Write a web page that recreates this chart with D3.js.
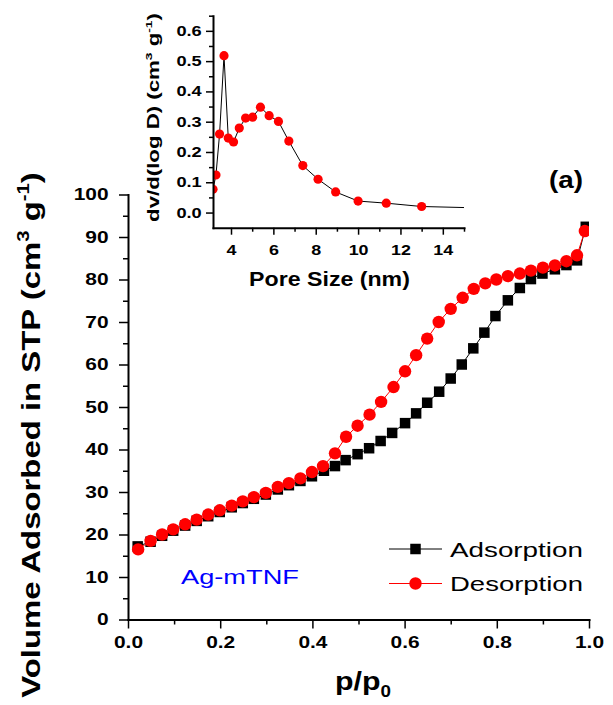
<!DOCTYPE html>
<html><head><meta charset="utf-8">
<script src="https://cdn.jsdelivr.net/npm/d3@7"></script>
<style>body{margin:0;background:#fff} svg{display:block}</style>
</head><body><svg id="c" width="613" height="705"></svg>
<script>
// ---------- data ----------
const pAds = [0.021,0.049,0.074,0.098,0.124,0.149,0.174,0.199,0.225,0.249,0.273,0.299,0.325,0.349,0.374,0.399,0.425,0.449,0.472,0.498,0.523,0.548,0.573,0.601,0.625,0.649,0.675,0.700,0.724,0.749,0.773,0.797,0.824,0.850,0.874,0.899,0.926,0.951,0.974,0.993];
const vAds = [17.2,18.3,19.7,20.9,22.1,23.2,24.3,25.3,26.4,27.4,28.4,29.4,30.6,31.6,32.6,33.7,35.0,36.1,37.5,38.9,40.3,42.0,43.9,46.2,48.5,51.0,53.6,56.7,60.0,63.8,67.5,71.4,75.1,78.0,80.1,81.4,82.4,83.4,84.5,92.4];
const pDes = [0.022,0.049,0.074,0.098,0.124,0.149,0.174,0.199,0.225,0.249,0.273,0.299,0.325,0.349,0.374,0.399,0.423,0.449,0.473,0.498,0.524,0.549,0.576,0.601,0.625,0.649,0.674,0.700,0.726,0.750,0.775,0.799,0.824,0.850,0.874,0.900,0.926,0.951,0.974,0.991];
const vDes = [16.5,18.5,20.0,21.2,22.4,23.5,24.7,25.7,26.8,27.8,28.8,29.8,31.2,32.1,33.2,34.7,36.1,39.1,43.0,45.6,48.2,51.2,54.7,58.4,62.2,66.1,70.0,73.1,75.7,77.8,79.1,80.0,80.8,81.4,82.1,82.8,83.3,84.3,85.7,91.4];
const poreSize = [3.15,3.29,3.46,3.67,3.87,4.12,4.39,4.69,5.02,5.39,5.80,6.24,6.73,7.39,8.11,8.94,10.0,11.33,13.0,15.9];
const dvdlogD  = [0.077,0.124,0.259,0.518,0.246,0.233,0.279,0.312,0.315,0.348,0.320,0.301,0.236,0.155,0.110,0.068,0.038,0.031,0.020,0.015];

const xMajor = [0,0.2,0.4,0.6,0.8,1.0], xMinor = [0.1,0.3,0.5,0.7,0.9];
const yMajor = [0,10,20,30,40,50,60,70,80,90,100], yMinor = [5,15,25,35,45,55,65,75,85,95];
const ixMajor = [4,6,8,10,12,14], ixMinor = [5,7,9,11,13,15];
const iyMajor = [0,0.1,0.2,0.3,0.4,0.5,0.6], iyMinor = [0.05,0.15,0.25,0.35,0.45,0.55,0.65];
const seriesNames = ["Adsorption","Desorption"];
const sampleName = "Ag-mTNF";
const panelLabel = "(a)";

// ---------- setup ----------
const FONT = 'Arial, "Liberation Sans", sans-serif';
const svg = d3.select("#c");
const x = d3.scaleLinear().domain([0,1]).range([128,589]);
const y = d3.scaleLinear().domain([0,100]).range([619.5,194.5]);
const xi = d3.scaleLinear().domain([3.15,15]).range([213,464]);
const yi = d3.scaleLinear().domain([-0.05,0.65]).range([227.7,15.7]);

function styleAxis(g, dw, tw, fs){
  g.select(".domain").attr("stroke","#000").attr("stroke-width",dw).attr("stroke-linecap","square");
  g.selectAll(".tick line").attr("stroke","#000").attr("stroke-width",tw);
  g.selectAll(".tick text").attr("font-family",FONT).attr("font-weight","bold").attr("font-size",fs).attr("fill","#000");
}
function bottomAxis(sc, yPos, major, minor, fmt, tl, tm, fs, base, sx, dw){
  const gm = svg.append("g").attr("transform",`translate(0,${yPos})`)
    .call(d3.axisBottom(sc).tickValues(minor).tickSize(tm).tickFormat(""));
  gm.select(".domain").remove();
  gm.selectAll(".tick line").attr("stroke","#000").attr("stroke-width",1.5);
  const g = svg.append("g").attr("transform",`translate(0,${yPos})`)
    .call(d3.axisBottom(sc).tickValues(major).tickFormat(fmt).tickSize(tl).tickSizeOuter(0));
  styleAxis(g, dw, 1.5, fs);
  g.selectAll(".tick text").attr("dy",null).attr("y",base).attr("transform",`scale(${sx},1)`);
}
function leftAxis(sc, xPos, major, minor, fmt, tl, tm, fs, off, sx, dw){
  const gm = svg.append("g").attr("transform",`translate(${xPos},0)`)
    .call(d3.axisLeft(sc).tickValues(minor).tickSize(tm).tickFormat(""));
  gm.select(".domain").remove();
  gm.selectAll(".tick line").attr("stroke","#000").attr("stroke-width",1.5);
  const g = svg.append("g").attr("transform",`translate(${xPos},0)`)
    .call(d3.axisLeft(sc).tickValues(major).tickFormat(fmt).tickSize(tl).tickSizeOuter(0));
  styleAxis(g, dw, 1.5, fs);
  g.selectAll(".tick text").attr("x",-off/sx).attr("transform",`scale(${sx},1)`);
}

function label(parts, o){
  const t = svg.append("text").attr("font-family",FONT).attr("font-weight",o.bold?"bold":"normal")
    .attr("font-size",o.fs).attr("fill",o.fill||"#000").attr("text-anchor",o.anchor||"middle");
  let shift = 0;
  parts.forEach(p=>{
    const ts = t.append("tspan");
    let txt = p, size = o.fs, target = 0;
    if (typeof p === "object"){
      size = o.fs*0.62;
      if (p.sup != null){ txt = p.sup; target = -o.fs*0.42; } else { txt = p.sub; target = o.fs*0.28; }
    }
    ts.text(txt).attr("font-size",size);
    if (target - shift !== 0) ts.attr("dy", target - shift);
    shift = target;
  });
  const w = t.node().getBBox().width;
  const sx = o.w ? o.w / w : 1;
  t.attr("transform",`translate(${o.x},${o.y})${o.rot?` rotate(${o.rot})`:""} scale(${sx},1)`);
  return t;
}

// ---------- main plot ----------
svg.append("clipPath").attr("id","mclip").append("rect").attr("x",128).attr("y",150).attr("width",461).attr("height",470);
svg.append("clipPath").attr("id","iclip").append("rect").attr("x",xi.range()[0]).attr("y",yi.range()[1]).attr("width",xi.range()[1]-xi.range()[0]).attr("height",yi.range()[0]-yi.range()[1]);

const mp = svg.append("g").attr("clip-path","url(#mclip)");
const lineA = d3.line().x((d,i)=>x(pAds[i])).y((d,i)=>y(vAds[i]));
const lineD = d3.line().x((d,i)=>x(pDes[i])).y((d,i)=>y(vDes[i]));
mp.append("path").attr("d",lineA(vAds)).attr("fill","none").attr("stroke","#000").attr("stroke-width",1);
const SQ = 10.5;
mp.selectAll("rect.ads").data(vAds).join("rect").attr("class","ads")
  .attr("x",(d,i)=>x(pAds[i])-SQ/2).attr("y",d=>y(d)-SQ/2).attr("width",SQ).attr("height",SQ).attr("fill","#000");
mp.append("path").attr("d",lineD(vDes)).attr("fill","none").attr("stroke","#ff0000").attr("stroke-width",1);
mp.selectAll("circle.des").data(vDes).join("circle").attr("class","des")
  .attr("cx",(d,i)=>x(pDes[i])).attr("cy",d=>y(d)).attr("r",6.2).attr("fill","#ff0000");

bottomAxis(x, y(0), xMajor, xMinor, d3.format(".1f"), 9, 5, 17, 28.5, 1.23, 2);
leftAxis(y, x(0), yMajor, yMinor, d3.format("d"), 9, 5, 17, 19.5, 1.23, 2);

// ---------- inset ----------
const ip = svg.append("g").attr("clip-path","url(#iclip)");
const lineI = d3.line().x((d,i)=>xi(poreSize[i])).y((d,i)=>yi(dvdlogD[i]));
ip.append("path").attr("d",lineI(dvdlogD)).attr("fill","none").attr("stroke","#000").attr("stroke-width",1);
ip.selectAll("circle").data(dvdlogD).join("circle")
  .attr("cx",(d,i)=>xi(poreSize[i])).attr("cy",d=>yi(d)).attr("r",4.6).attr("fill","#ff0000");

bottomAxis(xi, yi(-0.05), ixMajor, ixMinor, d3.format("d"), 7, 4, 14, 27.3, 1.28, 2);
leftAxis(yi, xi(3.15), iyMajor, iyMinor, d3.format(".1f"), 7, 4, 14, 11.3, 1.3, 2);

// ---------- labels ----------
label(["Volume Adsorbed in STP (cm",{sup:"3"}," g",{sup:"-1"},")"], {x:40,y:435,rot:-90,fs:26,bold:true,w:526});
label(["p/p",{sub:"0"}], {x:363,y:690,fs:26,bold:true,w:56});
label(["dv/d(log D) (cm",{sup:"3"}," g",{sup:"-1"},")"], {x:159,y:117.5,rot:-90,fs:16,bold:true,w:209});
label(["Pore Size (nm)"], {x:329.5,y:286,fs:20,bold:true,w:161});
label([panelLabel], {x:566,y:188,fs:24,bold:true,w:34});
label([sampleName], {x:181,y:584,fs:21,anchor:"start",fill:"#0000ff",w:118});

// ---------- legend ----------
const legY = [549, 583.5], legCol = ["#000","#ff0000"];
seriesNames.forEach((n,k)=>{
  svg.append("line").attr("x1",389).attr("x2",442).attr("y1",legY[k]).attr("y2",legY[k]).attr("stroke",legCol[k]).attr("stroke-width",1);
  if (k===0) svg.append("rect").attr("x",415.5-SQ/2).attr("y",legY[k]-SQ/2).attr("width",SQ).attr("height",SQ).attr("fill","#000");
  else svg.append("circle").attr("cx",415.5).attr("cy",legY[k]).attr("r",6.2).attr("fill","#ff0000");
  label([n], {x:450,y:legY[k]+7.5,fs:21,anchor:"start",w:133});
});
</script></body></html>
